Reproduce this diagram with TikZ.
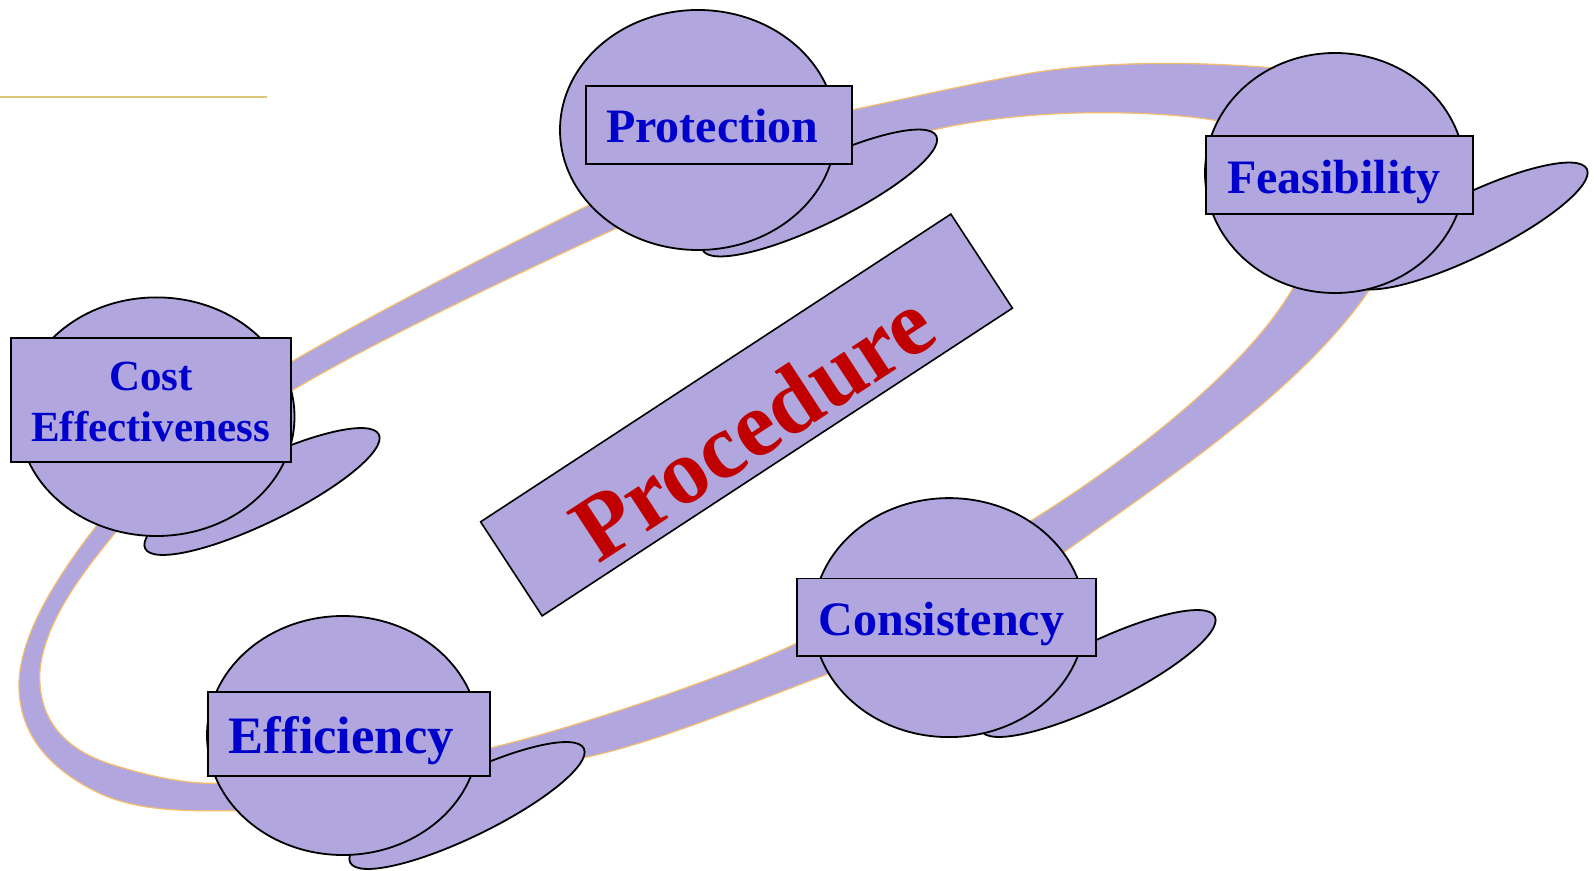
\documentclass[tikz,border=0pt]{standalone}
\usepackage{fontspec}
\setmainfont{Liberation Serif}
\definecolor{lav}{RGB}{177,167,222}
\definecolor{bandline}{RGB}{245,190,110}
\definecolor{lblue}{RGB}{0,0,204}
\definecolor{pred}{RGB}{192,0,0}
\definecolor{rulecol}{RGB}{222,200,120}
\begin{document}
\begin{tikzpicture}[x=0.5pt,y=-0.5pt,
  blob/.style={fill=lav, draw=black, line width=0.9pt},
  band/.style={fill=lav, draw=bandline, line width=0.6pt, even odd rule},
  lbl/.style={text=lblue, inner sep=0pt, anchor=base west},
  lblc/.style={text=lblue, inner sep=0pt, anchor=base},
  fs/.style={font=\fontsize{#1}{#1}\selectfont\bfseries}]
\useasboundingbox[fill=white] (0,0) rectangle (1594,871);

% top-left rule
\coordinate (r1) at (0,96.7);
\coordinate (r2) at (266.7,96.7);
\draw[rulecol, line width=1.1pt] (r1) -- (r2);

% band (loop): outer and inner boundary
\path[band]
  (233.4,810.7) .. controls (350,812) and (480,780) .. (583,758)
  .. controls (660,741.5) and (750,703) .. (820,677)
  .. controls (900,647) and (1000,600) .. (1067,550)
  .. controls (1170,477) and (1300,390) .. (1368,292)
  .. controls (1440,190) and (1420,80) .. (1275,68)
  .. controls (1200,61.8) and (1100,60) .. (1020,75)
  .. controls (960,86) and (900,100) .. (851.7,110)
  .. controls (780,125) and (650,175) .. (593,203)
  .. controls (500,249) and (380,310) .. (291.7,361.7)
  .. controls (220,404) and (140,470) .. (95.7,526.7)
  .. controls (60,573) and (22,630) .. (19.1,680)
  .. controls (17,725) and (40,765) .. (99.5,793.3)
  .. controls (140,812) and (190,811) .. (233.4,810.7) -- cycle
  (216.7,783.3) .. controls (300,779) and (420,764) .. (490,748)
  .. controls (560,732) and (720,680) .. (797,643)
  .. controls (870,608) and (980,552) .. (1032,520)
  .. controls (1100,478) and (1240,380) .. (1293,288)
  .. controls (1330,224) and (1320,140) .. (1217,120.7)
  .. controls (1170,112) and (1040,105) .. (933,130)
  .. controls (870,145) and (700,190) .. (620,226.7)
  .. controls (540,263) and (380,338) .. (293,390)
  .. controls (220,434) and (150,490) .. (114.8,533.3)
  .. controls (85,570) and (45,620) .. (40,670)
  .. controls (37,720) and (65,752) .. (120,767)
  .. controls (150,776) and (185,784) .. (216.7,783.3) -- cycle;

% Protection
\draw[blob, shift={(819.5,193)}, rotate=26] (0,0) ellipse [x radius=130, y radius=31];
\draw[blob] (698,130) ellipse [x radius=138, y radius=120];
\draw[blob] (585.7,86) rectangle (851.7,164);
\node[lbl, fs=24] (tprot) at (605.7,142.7) {Protection};

% Feasibility
\draw[blob, shift={(1470,226)}, rotate=26] (0,0) ellipse [x radius=130, y radius=31];
\draw[blob] (1335,173) ellipse [x radius=130, y radius=120];
\draw[blob] (1205.7,136) rectangle (1472.7,214);
\node[lbl, fs=24] (tfeas) at (1226.7,193.3) {Feasibility};

% Cost Effectiveness
\draw[blob, shift={(262,491.5)}, rotate=26] (0,0) ellipse [x radius=130, y radius=31];
\draw[blob] (156.5,416.7) ellipse [x radius=138, y radius=119.3];
\draw[blob] (11,338.3) rectangle (291,461.7);
\node[lblc, fs=21.5] (tcost) at (151,390) {Cost};
\node[lblc, fs=21.5] (teff) at (150.5,441.7) {Ef\kern0ptfectiveness};

% Efficiency
\draw[blob, shift={(467,805.5)}, rotate=26] (0,0) ellipse [x radius=130, y radius=31];
\draw[blob] (343,735.5) ellipse [x radius=136, y radius=119.5];
\draw[blob] (207.8,691.7) rectangle (490.2,775.7);
\node[lbl, fs=26.3] (teffi) at (228.5,753.3) {Ef\kern0ptf\kern0pticiency};

% Consistency
\draw[blob, shift={(1098,673.5)}, rotate=26] (0,0) ellipse [x radius=130, y radius=31];
\draw[blob] (949,617.6) ellipse [x radius=136, y radius=119.5];
\draw[blob] (797,578.4) rectangle (1096,655.7);
\node[lbl, fs=24] (tcons) at (818.4,635.4) {Consistency};

% Procedure
\node[blob, rotate=33.2, minimum width=281pt, minimum height=56.2pt, inner sep=0pt, line width=0.8pt] (procbox) at (746.5,415) {};
\node[rotate=33.2, anchor=base, inner sep=0pt, text=pred, fs=46.5] (proctext) at (769.5,452.5) {Procedure};
\end{tikzpicture}
\end{document}
